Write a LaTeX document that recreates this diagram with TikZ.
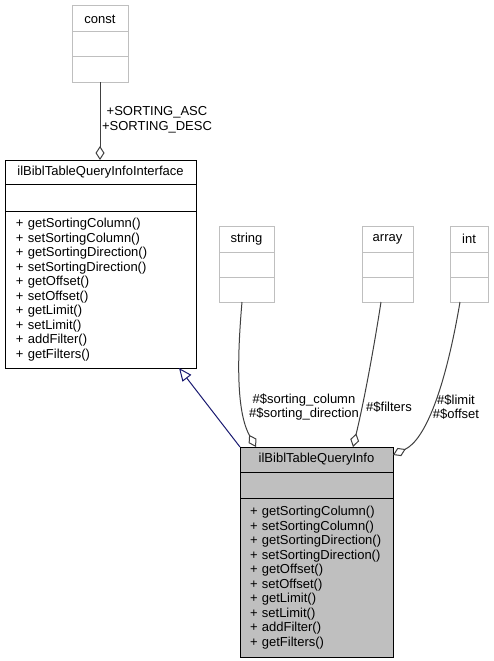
\documentclass[tikz,border=0pt]{standalone}
\usepackage{fontspec}
\setmainfont{Liberation Sans}
\usetikzlibrary{positioning,arrows.meta}
\definecolor{boxgray}{HTML}{BFBFBF}
\definecolor{edgegray}{HTML}{404040}
\definecolor{midnightblue}{HTML}{191970}
\hyphenpenalty=10000
\begin{document}
\begin{tikzpicture}[x=1pt,y=-1pt,
        part/.style={draw,line width=1pt,outer sep=0pt,inner sep=0pt,
            font=\fontsize{13}{14.5}\selectfont},
        typepart/.style={part,draw=boxgray},
        classpart/.style={part,draw=black},
        mainpart/.style={classpart,fill=boxgray},
        members/.style={align=left,inner xsep=11pt},
        aggr/.style={draw=edgegray,line width=1pt,
            -{Diamond[fill=white,length=14pt,width=9pt]}},
        inherit/.style={draw=midnightblue,line width=1pt,
            -{Triangle[fill=white,length=13pt,width=11pt]}},
        role/.style={font=\fontsize{13}{14.5}\selectfont,align=center,inner sep=0pt}]
    \useasboundingbox (0,0) rectangle (493,661);
    \node[typepart,minimum width=56pt,minimum height=26pt] (constT) at (100,19) {const};
    \node[typepart,minimum width=56pt,minimum height=25pt,below=0pt of constT] (constA) {};
    \node[typepart,minimum width=56pt,minimum height=25pt,below=0pt of constA] (constM) {};
    \node[classpart,minimum width=191pt,minimum height=24pt] (ifaceT) at (100.5,172)
        {ilBiblTableQueryInfoInterface};
    \node[classpart,minimum width=191pt,minimum height=27pt,below=0pt of ifaceT] (ifaceA) {};
    \node[classpart,members,text width=169pt,minimum height=157pt,below=0pt of ifaceA] (ifaceM)
        {+~getSortingColumn()\\+~setSortingColumn()\\+~getSortingDirection()\\
        +~setSortingDirection()\\+~getOffset()\\+~setOffset()\\+~getLimit()\\
        +~setLimit()\\+~addFilter()\\+~getFilters()};
    \node[typepart,minimum width=55pt,minimum height=26pt] (strT) at (246.5,239) {string};
    \node[typepart,minimum width=55pt,minimum height=25pt,below=0pt of strT] (strA) {};
    \node[typepart,minimum width=55pt,minimum height=25pt,below=0pt of strA] (strM) {};
    \node[typepart,minimum width=51pt,minimum height=26pt] (arrT) at (387.5,239) {array};
    \node[typepart,minimum width=51pt,minimum height=25pt,below=0pt of arrT] (arrA) {};
    \node[typepart,minimum width=51pt,minimum height=25pt,below=0pt of arrA] (arrM) {};
    \node[typepart,minimum width=38pt,minimum height=26pt] (intT) at (469,239) {int};
    \node[typepart,minimum width=38pt,minimum height=25pt,below=0pt of intT] (intA) {};
    \node[typepart,minimum width=38pt,minimum height=25pt,below=0pt of intA] (intM) {};
    \node[mainpart,minimum width=153pt,minimum height=25pt] (infoT) at (316.5,459.5)
        {ilBiblTableQueryInfo};
    \node[mainpart,minimum width=153pt,minimum height=26pt,below=0pt of infoT] (infoA) {};
    \node[mainpart,members,inner xsep=10pt,text width=133pt,minimum height=159pt,
        below=0pt of infoA] (infoM)
        {+~getSortingColumn()\\+~setSortingColumn()\\+~getSortingDirection()\\
        +~setSortingDirection()\\+~getOffset()\\+~setOffset()\\+~getLimit()\\
        +~setLimit()\\+~addFilter()\\+~getFilters()};
    \draw[aggr] (constM.south) -- (constM.south |- ifaceT.north);
    \draw[inherit] (infoT.north west) -- ([xshift=-17pt]ifaceM.south east);
    \draw[aggr] ([xshift=-4.5pt]strM.south) .. controls +(-6,68) and +(-18,-32)
        .. ([xshift=16pt]infoT.north west);
    \draw[aggr] ([xshift=-6.5pt]arrM.south) .. controls +(-9,58) and +(9,-37)
        .. ([xshift=113pt]infoT.north west);
    \draw[aggr] ([xshift=-9pt]intM.south) .. controls +(-15,88) and +(32,-15)
        .. ([yshift=4.5pt]infoT.east);
    \node[role] (sortLbl) at (157,120) {+SORTING\_ASC\\+SORTING\_DESC};
    \node[role] (colLbl) at (304,407) {\#\$sorting\_column\\\#\$sorting\_direction};
    \node[role] (filLbl) at (389,407) {\#\$filters};
    \node[role] (limLbl) at (456,407) {\#\$limit\\\#\$offset};
\end{tikzpicture}
\end{document}
